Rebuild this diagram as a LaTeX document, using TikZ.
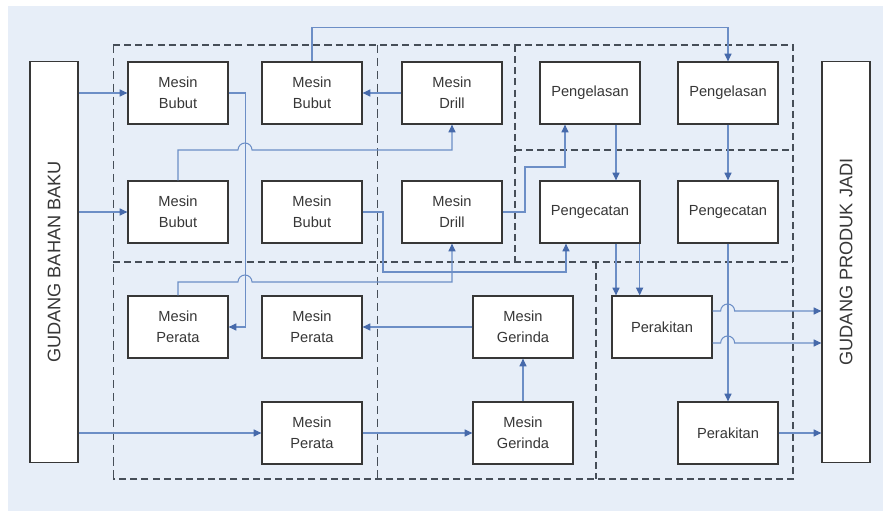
\documentclass[tikz,border=0pt]{standalone}
\usepackage{fontspec}
\setmainfont{Liberation Sans}
\usetikzlibrary{arrows.meta,positioning}

\definecolor{bgblue}{RGB}{231,238,248}
\definecolor{flowblue}{RGB}{108,142,198}
\definecolor{tipblue}{RGB}{70,105,170}
\definecolor{framegray}{RGB}{70,78,88}
\definecolor{boxgray}{RGB}{55,55,55}

\begin{document}
\begin{tikzpicture}[x=0.03cm,y=-0.03cm,
	box/.style={draw=boxgray,line width=1.1pt,fill=white,minimum width=3cm,minimum height=1.86cm,
		inner sep=0pt,align=center,text=boxgray,font=\fontsize{12.5}{18}\selectfont},
	store/.style={draw=boxgray,line width=1.1pt,fill=white,minimum width=1.44cm,minimum height=12.03cm,inner sep=0pt},
	storetext/.style={rotate=90,text=boxgray,font=\fontsize{15.5}{17}\selectfont},
	zone/.style={draw=framegray,line width=1.5pt,dash pattern=on 6pt off 3.5pt},
	zonethin/.style={draw=framegray,line width=0.8pt,dash pattern=on 7pt off 4pt},
	flow/.style={draw=flowblue,line width=0.9pt,-{Triangle[length=6.5pt,width=6pt,color=tipblue]}}]
	\useasboundingbox (0,0) rectangle (883,511);
	\fill[white] (0,0) rectangle (883,511);
	\fill[bgblue] (8,6) rectangle (883,511);

	% gudang
	\node[store,label={[storetext]center:GUDANG BAHAN BAKU}] (gbb) at (54,262) {};
	\node[store,label={[storetext]center:GUDANG PRODUK JADI}] (gpj) at (846,262) {};

	% mesin
	\node[box] (bubutA) at (178,93) {Mesin\\Bubut};
	\node[box] (bubutB) at (312,93) {Mesin\\Bubut};
	\node[box] (drillA) at (452,93) {Mesin\\Drill};
	\node[box] (lasA) at (590,93) {Pengelasan};
	\node[box] (lasB) at (728,93) {Pengelasan};
	\node[box] (bubutC) at (178,212) {Mesin\\Bubut};
	\node[box] (bubutD) at (312,212) {Mesin\\Bubut};
	\node[box] (drillB) at (452,212) {Mesin\\Drill};
	\node[box] (catA) at (590,212) {Pengecatan};
	\node[box] (catB) at (728,212) {Pengecatan};
	\node[box] (perataA) at (178,327) {Mesin\\Perata};
	\node[box] (perataB) at (312,327) {Mesin\\Perata};
	\node[box] (gerA) at (523,327) {Mesin\\Gerinda};
	\node[box] (rakA) at (662,327) {Perakitan};
	\node[box] (perataC) at (312,433) {Mesin\\Perata};
	\node[box] (gerB) at (523,433) {Mesin\\Gerinda};
	\node[box] (rakB) at (728,433) {Perakitan};

	% area kerja
	\draw[zone] (113,45) -- (793,45) -- (793,479) -- (113,479);
	\draw[zone] (113,262) -- (793,262);
	\draw[zone] (515,150) -- (793,150);
	\draw[zone] (515,45) -- (515,262);
	\draw[zone] (596,262) -- (596,479);
	\draw[zonethin] (113,45) -- (113,479);
	\draw[zonethin] (377,45) -- (377,479);

	\coordinate (rakOutA) at ([yshift=0.48cm]rakA.east);
	\coordinate (rakOutB) at ([yshift=-0.48cm]rakA.east);

	% aliran
	\path[flow] (gbb.east |- bubutA.west) -- (bubutA.west);
	\path[flow] (gbb.east |- bubutC.west) -- (bubutC.west);
	\path[flow] (gbb.east |- perataC.west) -- (perataC.west);
	\path[flow] (drillA.west) -- (bubutB.east);
	\path[flow] (bubutB.north) -- ++(0,-34) -| (lasB.north);
	\path[flow] (bubutA.east) -- ++(17,0) |- (perataA.east);
	\path[flow] (bubutC.north) |- (238,150) arc[start angle=180,end angle=0,radius=0.21cm] -| (drillA.south);
	\path[flow] (perataA.north) |- (238,282) arc[start angle=180,end angle=0,radius=0.21cm] -| (drillB.south);
	\path[flow] (bubutD.east) -| (383,272) -| ([xshift=-0.72cm]catA.south);
	\path[flow] (drillB.east) -| (525,167) -| ([xshift=-0.75cm]lasA.south);
	\path[flow] (gerA.west) -- (perataB.east);
	\path[flow] (perataC.east) -- (gerB.west);
	\path[flow] (gerB.north) -- (gerA.south);
	\path[flow] ([xshift=0.78cm]lasA.south) -- ([xshift=0.78cm]catA.north);
	\path[flow] (lasB.south) -- (catB.north);
	\path[flow] ([xshift=0.78cm]catA.south) -- ([xshift=0.78cm]catA.south |- rakA.north);
	\path[flow] ([xshift=-0.03cm]catA.south east) -- ([xshift=-0.03cm]catA.south east |- rakA.north);
	\path[flow] (catB.south) -- (rakB.north);
	\path[flow] (rakOutA) -- ++(8,0) arc[start angle=180,end angle=0,radius=0.21cm] -- (rakOutA -| gpj.west);
	\path[flow] (rakOutB) -- ++(8,0) arc[start angle=180,end angle=0,radius=0.21cm] -- (rakOutB -| gpj.west);
	\path[flow] (rakB.east) -- (rakB.east -| gpj.west);
\end{tikzpicture}
\end{document}
